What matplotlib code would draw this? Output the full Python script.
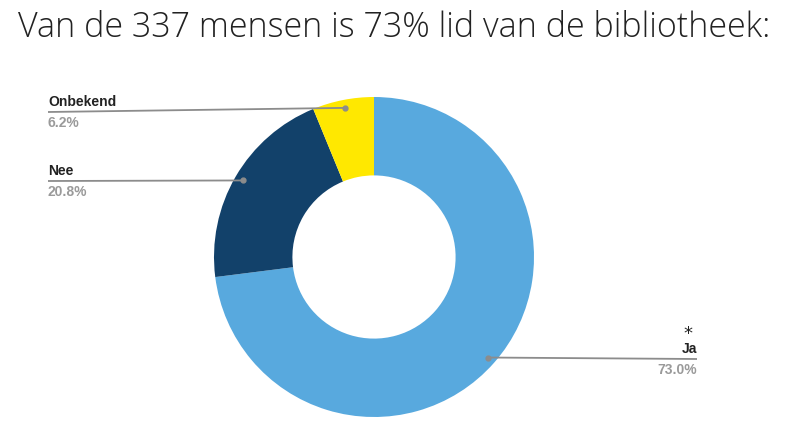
import numpy as np
import matplotlib.pyplot as plt

labels = ['Ja', 'Nee', 'Onbekend']
values = [73.0, 20.8, 6.2]
colors = ['#58a9de', '#12416a', '#ffe800']
title = 'Van de 337 mensen is 73% lid van de bibliotheek:'

W, H = 792, 445
fig = plt.figure(figsize=(W / 100, H / 100), dpi=100)
ax = fig.add_axes([0, 0, 1, 1])

cx, cy, R = 374, 257, 160
# y axis is flipped, so counterclock=True draws clockwise on screen
ax.pie(values, colors=colors, startangle=-90, counterclock=True,
       center=(cx, cy), radius=R, frame=True,
       wedgeprops=dict(width=R * 0.49, linewidth=0))
ax.set_xlim(0, W)
ax.set_ylim(H, 0)
ax.set_aspect('equal')
ax.axis('off')

# label placement: (text x, line y, align)
layout = {
    'Ja': (697, 359, 'right'),
    'Nee': (48, 181, 'left'),
    'Onbekend': (48, 112, 'left'),
}

start = 0.0
total = sum(values)
for lab, val in zip(labels, values):
    mid = (start + val / 2) / total * 2 * np.pi
    start += val
    dx = cx + 0.95 * R * np.sin(mid)
    dy = cy - 0.95 * R * np.cos(mid)
    tx, ly, ha = layout[lab]
    ax.plot([tx, dx], [ly, dy], color='#8c8c8c', lw=1.3,
            solid_capstyle='butt', zorder=3)
    ax.plot(dx, dy, 'o', color='#8c8c8c', ms=3.5, zorder=4)
    ax.text(tx, ly - 3, lab, ha=ha, va='bottom', fontsize=10,
            fontweight='bold', color='#222222', family='Liberation Sans')
    ax.text(tx, ly + 4, f'{val:.1f}%', ha=ha, va='top', fontsize=10,
            fontweight='bold', color='#9a9a9a', family='Liberation Sans')
    if lab == 'Ja':
        ax.text(tx - 9, ly - 16, '*', ha='center', va='bottom', fontsize=13,
                color='#222222', family='DejaVu Sans')

fig.text(18 / W, 1 - 28 / H, title, ha='left', va='center', fontsize=24.5,
         family='Open Sans', fontweight='light', color='#222222')

fig.savefig('out.png', dpi=100)
